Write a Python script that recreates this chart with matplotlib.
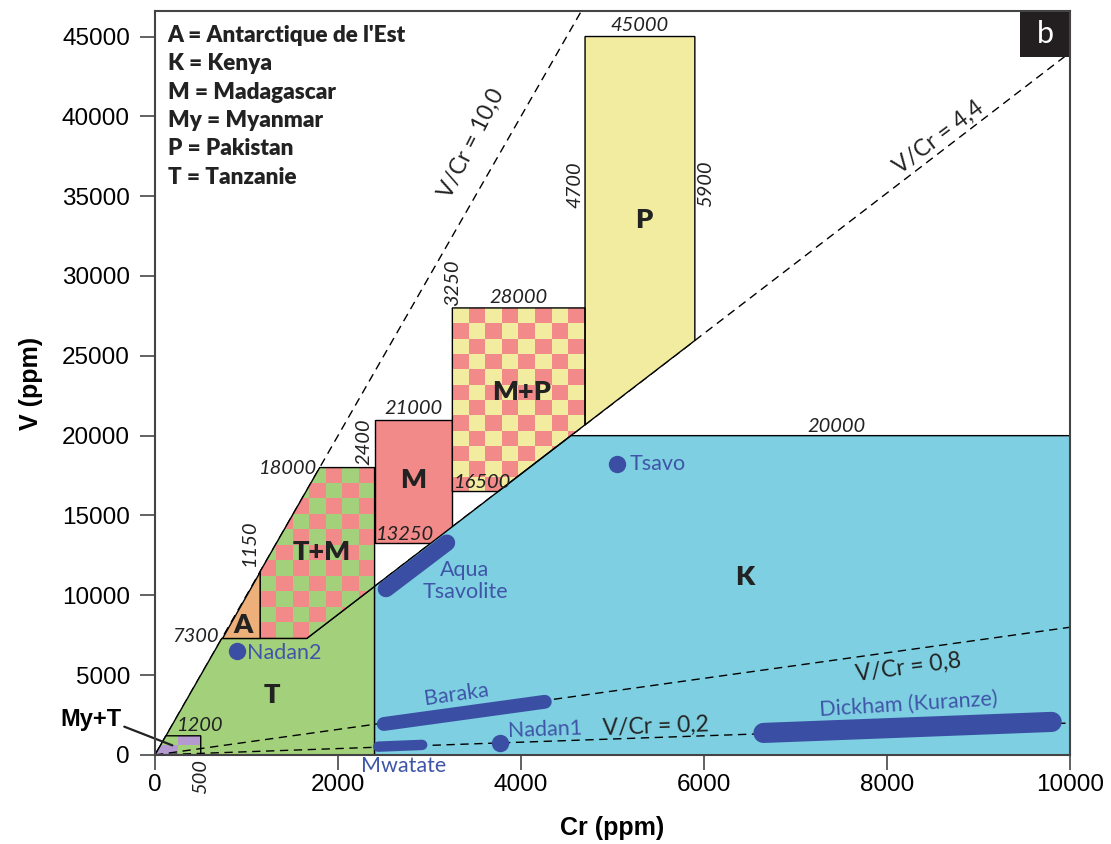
import numpy as np
import matplotlib
matplotlib.use('Agg')
import matplotlib.pyplot as plt
from matplotlib.patches import Polygon, Rectangle
from matplotlib.colors import ListedColormap

# V/Cr reference lines
ratios = [10.0, 4.4, 0.8, 0.2]
ratio_labels = ['V/Cr = 10,0', 'V/Cr = 4,4', 'V/Cr = 0,8', 'V/Cr = 0,2']

# field boundaries (ppm), as written on the diagram
cr_my_t, v_my_t = 500, 1200
v_a_low, cr_a_right = 7300, 1150
v_tm_top, cr_t_right = 18000, 2400
v_m_low, v_m_top, cr_m_right = 13250, 21000, 3250
v_mp_low, v_mp_top, cr_p_left = 16500, 28000, 4700
v_p_top, cr_p_right = 45000, 5900
v_k_top = 20000
cr_max = 10000

# single analyses
point_names = ['Nadan2', 'Tsavo', 'Nadan1']
point_cr = [896, 5050, 3770]
point_v = [6520, 18240, 770]

# elongated sample fields (start, end)
trend_names = ['Aqua\nTsavolite', 'Baraka', 'Mwatate', 'Dickham (Kuranze)']
trend_cr = [(2525, 3190), (2500, 4260), (2440, 2920), (6650, 9800)]
trend_v = [(10400, 13290), (1940, 3330), (520, 630), (1380, 2070)]

legend_lines = ["A = Antarctique de l'Est", 'K = Kenya', 'M = Madagascar',
                'My = Myanmar', 'P = Pakistan', 'T = Tanzanie']

GREEN = '#A3D17B'
PINK = '#F28A8A'
YELLOW = '#F2ECA0'
CYAN = '#7ECFE1'
ORANGE = '#EDB07B'
PURPLE = '#B49AD1'
BLUE = '#3A4FA3'
BLUE_TXT = '#3F56A8'
MYR = ['Lato', 'DejaVu Sans']

plt.rcParams['font.family'] = ['Liberation Sans', 'DejaVu Sans']


def field(ax, verts, color, z=2):
    p = Polygon(verts, closed=True, facecolor=color, edgecolor='black', lw=1.0, zorder=z)
    ax.add_patch(p)
    return p


def checker(ax, verts, x0, x1, y0, y1, nx, ny, colors, z=2):
    p = Polygon(verts, closed=True, facecolor='none', edgecolor='black', lw=1.0, zorder=z + 0.1)
    ax.add_patch(p)
    grid = np.add.outer(np.arange(ny), np.arange(nx)) % 2
    im = ax.imshow(grid, cmap=ListedColormap(colors), extent=(x0, x1, y0, y1), origin='lower',
                   aspect='auto', interpolation='nearest', zorder=z)
    im.set_clip_path(p)


fig = plt.figure(figsize=(11.11, 8.44), dpi=100)
ax = fig.add_axes([0.1395, 0.1055, 0.8236, 0.8815])
ax.set_xlim(0, cr_max)
ax.set_ylim(0, 46600)

r_hi, r_mid = ratios[0], ratios[1]

# steep ratio lines lie under the fields
for r in ratios[:2]:
    ax.plot([0, cr_max], [0, r * cr_max], color='black', lw=1.0, dashes=(6, 4), zorder=1)

# T
field(ax, [(0, 0), (v_a_low / r_hi, v_a_low), (v_a_low / r_mid, v_a_low),
           (cr_t_right, cr_t_right * r_mid), (cr_t_right, 0)], GREEN)
# A
field(ax, [(v_a_low / r_hi, v_a_low), (cr_a_right, v_a_low), (cr_a_right, cr_a_right * r_hi)], ORANGE)
# T+M
checker(ax, [(cr_a_right, v_a_low), (v_a_low / r_mid, v_a_low), (cr_t_right, cr_t_right * r_mid),
             (cr_t_right, v_tm_top), (v_tm_top / r_hi, v_tm_top), (cr_a_right, cr_a_right * r_hi)],
        cr_a_right, cr_t_right, v_a_low, v_tm_top, 7, 11, [PINK, GREEN])
# M
field(ax, [(cr_t_right, v_m_low), (cr_m_right, v_m_low), (cr_m_right, v_m_top), (cr_t_right, v_m_top)], PINK)
# M+P
checker(ax, [(cr_m_right, v_mp_low), (v_mp_low / r_mid, v_mp_low), (cr_p_left, cr_p_left * r_mid),
             (cr_p_left, v_mp_top), (cr_m_right, v_mp_top)],
        cr_m_right, cr_p_left, v_mp_low, v_mp_top, 8, 12, [PINK, YELLOW])
# P
field(ax, [(cr_p_left, cr_p_left * r_mid), (cr_p_right, cr_p_right * r_mid),
           (cr_p_right, v_p_top), (cr_p_left, v_p_top)], YELLOW)
# K
field(ax, [(cr_t_right, 0), (cr_t_right, cr_t_right * r_mid), (v_k_top / r_mid, v_k_top),
           (cr_max, v_k_top), (cr_max, 0)], CYAN)
# My+T
checker(ax, [(0, 0), (cr_my_t, 0), (cr_my_t, v_my_t), (v_my_t / r_hi, v_my_t)],
        0, cr_my_t, 0, v_my_t, 2, 2, [PURPLE, GREEN], z=2.2)

# low ratio lines drawn over the fields
for r in ratios[2:]:
    ax.plot([0, cr_max], [0, r * cr_max], color='black', lw=1.0, dashes=(6, 4), zorder=3)

# ratio line labels (screen angles)
lab_pos = [(3460, 38300), (8570, 38700), (8230, 5450), (5470, 1760)]
lab_rot = [63, 37, 7.5, 2]
for s, (x, y), rot in zip(ratio_labels, lab_pos, lab_rot):
    ax.text(x, y, s, rotation=rot, rotation_mode='anchor', ha='center', va='center',
            fontsize=16.5, family=MYR, color='#222222', zorder=5)

# samples
for xs, ys, w in zip(trend_cr, trend_v, [12, 10, 7.5, 14.5]):
    ax.plot(xs, ys, color=BLUE, lw=w, solid_capstyle='round', zorder=4)
ax.plot(point_cr, point_v, 'o', color=BLUE, ms=11.5, zorder=4)

bt = dict(color=BLUE_TXT, fontsize=15.5, family=MYR, zorder=5)
ax.text(1005, 6390, point_names[0], ha='left', va='center', **bt)
ax.text(5190, 18240, point_names[1], ha='left', va='center', **bt)
ax.text(4262, 1600, point_names[2], ha='center', va='center', rotation=2, **bt)
ax.text(3388, 10900, trend_names[0], ha='center', va='center', linespacing=1.1, **bt)
ax.text(3290, 3760, trend_names[1], ha='center', va='center', rotation=8, **bt)
ax.text(2721, -700, trend_names[2], ha='center', va='center', **bt)
ax.text(8240, 3140, trend_names[3], ha='center', va='center', rotation=3.5, **bt)

# field letters
fl = dict(fontsize=19.5, fontweight='heavy', family=MYR, ha='center', va='center', color='#222222', zorder=5)
for s, x, y in [('T', 1279, 3760), ('A', 962, 8150), ('T+M', 1825, 12720), ('M', 2820, 17235),
                ('M+P', 4011, 22750), ('P', 5344, 33530), ('K', 6448, 11150)]:
    ax.text(x, y, s, **fl)

# boundary values
it = dict(fontsize=14.5, style='italic', family=MYR, color='#222222', zorder=5)
ax.text((cr_p_left + cr_p_right) / 2, v_p_top + 150, str(v_p_top), ha='center', va='bottom', **it)
ax.text((cr_m_right + cr_p_left) / 2, v_mp_top + 150, str(v_mp_top), ha='center', va='bottom', **it)
ax.text((cr_t_right + cr_m_right) / 2, v_m_top + 150, str(v_m_top), ha='center', va='bottom', **it)
ax.text(1770, 17950, str(v_tm_top), ha='right', va='center', **it)
ax.text(cr_m_right + 20, v_mp_low + 50, str(v_mp_low), ha='left', va='bottom', **it)
ax.text(cr_t_right + 20, v_m_low + 50, str(v_m_low), ha='left', va='bottom', **it)
ax.text(7450, v_k_top + 50, str(v_k_top), ha='center', va='bottom', **it)
ax.text(700, 7400, str(v_a_low), ha='right', va='center', **it)
ax.text(240, v_my_t + 100, str(v_my_t), ha='left', va='bottom', **it)
ax.text(cr_t_right - 20, v_tm_top + 150, str(cr_t_right), rotation=90, ha='right', va='bottom', **it)
ax.text(cr_m_right, v_mp_top + 150, str(cr_m_right), rotation=90, ha='center', va='bottom', **it)
ax.text(cr_p_left - 20, 35700, str(cr_p_left), rotation=90, ha='right', va='center', **it)
ax.text(cr_p_right + 20, 35800, str(cr_p_right), rotation=90, ha='left', va='center', **it)
ax.text(cr_a_right - 20, 13300, str(cr_a_right), rotation=90, ha='right', va='center', **it)
ax.text(cr_my_t, -250, str(cr_my_t), rotation=90, ha='center', va='top', **it)

# My+T callout
ax.annotate('My+T', xy=(190, 600), xytext=(-700, 2200), ha='center', va='center',
            fontsize=17, fontweight='bold', annotation_clip=False, zorder=5,
            arrowprops=dict(arrowstyle='-', lw=1.6, color='#222222', relpos=(1, 0.25),
                            shrinkA=0, shrinkB=0))

# legend
ax.text(0.014, 0.981, '\n'.join(legend_lines), transform=ax.transAxes, ha='left', va='top',
        fontsize=16.2, fontweight='heavy', family=MYR, linespacing=1.43, color='#222222', zorder=6)

# panel letter
ax.add_patch(Rectangle((0.9454, 0.938), 0.0546, 0.062, transform=ax.transAxes,
                       facecolor='#231F20', edgecolor='none', zorder=6))
ax.text(0.9727, 0.969, 'b', transform=ax.transAxes, ha='center', va='center',
        color='white', fontsize=22, family=MYR, zorder=7)

ax.set_xticks(np.arange(0, 10001, 2000))
ax.set_yticks(np.arange(0, 45001, 5000))
ax.tick_params(direction='out', length=11, width=1.3, color='#555555', labelsize=17.5)
ax.tick_params(axis='x', pad=3)
ax.tick_params(axis='y', pad=7)
for sp in ax.spines.values():
    sp.set_color('#444444')
    sp.set_linewidth(1.5)
    sp.set_zorder(6)

ax.set_xlabel('Cr (ppm)', fontsize=18, fontweight='bold', labelpad=14)
ax.set_ylabel('V (ppm)', fontsize=18, fontweight='bold', labelpad=14)

fig.savefig('out.png', dpi=100)
